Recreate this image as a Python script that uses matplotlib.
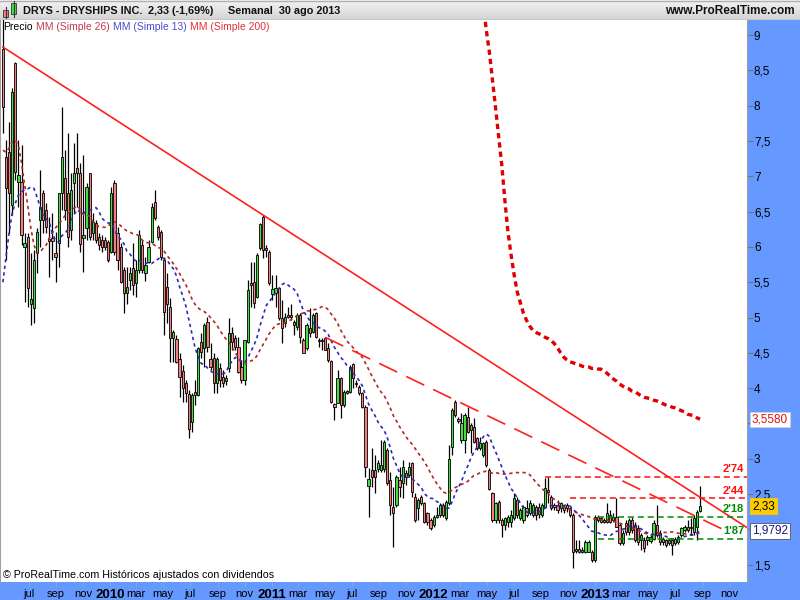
import numpy as np
import pandas as pd
import matplotlib
matplotlib.use('Agg')
import matplotlib.pyplot as plt
import matplotlib.dates as mdates
from matplotlib.colors import LinearSegmentedColormap
from matplotlib.patches import Rectangle
from matplotlib.ticker import FuncFormatter

plt.rcParams['font.family'] = ['Liberation Sans', 'DejaVu Sans']

# --- Data (weekly candles) ---------------------------------------------------------------
first_week = '2009-05-04'

opens = [
    8.80, 7.27, 7.34, 6.59, 8.60, 6.92, 6.92, 6.00, 6.14, 5.19,
    5.13, 5.91, 6.38, 6.76, 6.52, 6.11, 6.13, 5.91, 6.05, 6.76,
    6.98, 6.76, 6.24, 6.90, 7.12, 7.05, 6.13, 6.27, 7.05, 6.20,
    6.34, 6.14, 6.10, 6.10, 6.07, 5.93, 6.90, 6.20, 6.00, 5.67,
    5.35, 5.53, 5.70, 5.49, 5.67, 6.03, 5.63, 5.79, 6.07, 6.64,
    6.28, 6.21, 5.81, 5.43, 5.15, 4.71, 4.70, 4.41, 4.24, 4.07,
    3.92, 3.52, 3.94, 3.90, 4.65, 4.57, 4.94, 4.41, 4.43, 4.07,
    4.28, 4.16, 4.10, 4.28, 4.78, 4.71, 4.58, 4.30, 4.11, 4.65,
    5.46, 5.50, 5.29, 5.98, 6.42, 5.98, 5.93, 5.33, 5.35, 5.42,
    4.99, 4.92, 5.04, 5.04, 4.94, 4.86, 5.04, 4.68, 4.57, 4.85,
    4.79, 5.06, 4.68, 4.67, 4.71, 4.57, 4.38, 3.77, 3.79, 4.14,
    3.76, 3.93, 3.94, 4.34, 4.07, 4.01, 3.93, 3.73, 2.61, 2.84,
    2.84, 2.85, 2.84, 2.85, 3.12, 2.70, 2.31, 2.34, 2.70, 2.66,
    2.80, 2.77, 2.94, 2.46, 2.30, 2.46, 2.37, 2.23, 2.13, 2.06,
    2.17, 2.20, 2.34, 2.16, 2.37, 3.17, 3.80, 3.56, 3.26, 3.26,
    3.59, 3.41, 3.45, 3.29, 3.15, 3.05, 3.24, 2.84, 2.51, 2.13,
    2.39, 2.13, 2.06, 2.10, 2.10, 2.16, 2.41, 2.16, 2.13, 2.30,
    2.23, 2.20, 2.31, 2.22, 2.20, 2.31, 2.56, 2.46, 2.34, 2.34,
    2.30, 2.31, 2.34, 2.30, 2.20, 1.69, 1.72, 1.71, 1.68, 1.68,
    1.68, 1.57, 2.17, 2.16, 2.10, 2.10, 2.20, 2.13, 2.17, 2.06,
    1.81, 2.09, 1.96, 2.13, 2.06, 2.02, 1.85, 1.85, 1.85, 1.83,
    1.87, 2.06, 1.95, 1.82, 1.85, 1.81, 1.85, 1.81, 1.82, 1.92,
    1.99, 2.03, 2.02, 1.96, 2.03, 2.26,
]
highs = [
    9.30, 7.51, 7.77, 8.25, 8.62, 7.51, 7.44, 6.20, 6.20, 5.91,
    5.96, 6.27, 7.09, 6.81, 6.62, 6.42, 6.48, 6.21, 6.76, 7.98,
    7.37, 7.61, 7.05, 7.47, 7.61, 7.19, 7.30, 6.90, 7.05, 6.48,
    6.38, 6.20, 6.17, 6.14, 6.10, 6.85, 6.95, 6.28, 6.06, 5.71,
    5.71, 5.71, 6.06, 5.81, 6.24, 6.10, 5.86, 6.10, 6.62, 6.81,
    6.31, 6.24, 5.86, 5.63, 5.27, 4.82, 4.75, 4.50, 4.33, 4.11,
    3.97, 3.93, 4.11, 4.58, 4.78, 4.92, 5.01, 4.64, 4.50, 4.44,
    4.35, 4.26, 4.19, 4.99, 4.86, 4.75, 4.72, 4.40, 4.68, 5.53,
    5.79, 5.79, 5.91, 6.34, 6.45, 6.03, 5.96, 5.60, 5.60, 5.43,
    5.25, 5.06, 5.15, 5.19, 4.96, 5.06, 5.06, 4.71, 4.92, 5.13,
    5.06, 5.08, 4.71, 4.71, 4.72, 4.64, 4.40, 3.79, 4.26, 4.16,
    3.97, 3.97, 4.33, 4.35, 4.11, 4.04, 3.94, 3.76, 2.87, 3.15,
    3.05, 2.98, 3.26, 3.26, 3.15, 2.81, 2.60, 2.77, 2.88, 2.98,
    2.84, 2.95, 2.95, 2.51, 2.45, 2.49, 2.39, 2.24, 2.16, 2.20,
    2.31, 2.37, 2.37, 2.41, 3.19, 3.72, 3.83, 3.59, 3.65, 3.65,
    3.73, 3.50, 3.58, 3.31, 3.31, 3.24, 3.26, 2.87, 2.53, 2.39,
    2.41, 2.16, 2.17, 2.20, 2.27, 2.51, 2.46, 2.30, 2.34, 2.41,
    2.41, 2.37, 2.34, 2.37, 2.37, 2.73, 2.74, 2.49, 2.37, 2.41,
    2.39, 2.34, 2.37, 2.31, 2.23, 1.85, 1.85, 1.75, 1.85, 1.85,
    1.71, 2.20, 2.20, 2.17, 2.16, 2.37, 2.27, 2.23, 2.44, 2.09,
    1.99, 2.13, 2.16, 2.17, 2.10, 2.06, 1.95, 1.89, 1.92, 1.92,
    2.13, 2.34, 1.99, 1.89, 1.87, 1.87, 1.87, 1.89, 1.92, 2.03,
    2.06, 2.13, 2.16, 2.20, 2.27, 2.61,
]
lows = [
    7.61, 5.81, 6.20, 6.45, 6.95, 6.57, 6.03, 5.22, 5.15, 4.89,
    4.92, 5.63, 6.00, 6.20, 6.20, 5.57, 5.81, 5.50, 5.71, 6.52,
    6.38, 6.00, 6.10, 6.48, 6.57, 5.93, 5.64, 6.10, 6.10, 6.10,
    6.06, 5.96, 5.93, 5.96, 5.79, 5.91, 5.88, 5.67, 5.49, 5.06,
    5.19, 5.39, 5.32, 5.29, 5.63, 5.63, 5.52, 5.77, 6.06, 6.38,
    6.10, 5.81, 4.75, 4.92, 4.37, 4.37, 4.35, 3.87, 3.80, 3.80,
    3.29, 3.38, 3.76, 3.89, 4.43, 4.30, 4.51, 4.26, 3.93, 3.93,
    4.01, 4.01, 4.05, 4.23, 4.54, 4.54, 4.21, 4.07, 4.05, 4.64,
    5.15, 5.13, 5.28, 5.96, 5.84, 5.86, 5.46, 5.25, 5.15, 4.96,
    4.64, 4.86, 4.99, 4.96, 4.75, 4.82, 4.64, 4.50, 4.54, 4.72,
    4.78, 4.71, 4.58, 4.54, 4.54, 4.37, 3.79, 3.55, 3.79, 3.58,
    3.73, 3.92, 3.93, 4.00, 4.01, 3.90, 3.72, 2.74, 2.17, 2.60,
    2.51, 2.81, 2.81, 2.81, 2.63, 2.20, 1.75, 2.31, 2.46, 2.45,
    2.63, 2.74, 2.46, 2.10, 2.13, 2.34, 2.09, 2.06, 1.99, 2.03,
    2.16, 2.17, 2.17, 2.13, 2.34, 3.05, 3.59, 3.50, 3.22, 3.08,
    3.36, 3.08, 3.22, 3.12, 3.12, 3.02, 2.88, 2.56, 2.10, 2.09,
    2.09, 1.89, 1.99, 2.03, 2.03, 2.13, 2.16, 2.13, 2.09, 2.17,
    2.20, 2.17, 2.13, 2.16, 2.17, 2.30, 2.37, 2.27, 2.27, 2.23,
    2.24, 2.23, 2.24, 2.17, 1.45, 1.66, 1.66, 1.66, 1.66, 1.68,
    1.54, 1.54, 2.10, 2.09, 2.09, 2.09, 2.09, 2.10, 2.03, 1.78,
    1.78, 1.92, 1.92, 1.95, 1.82, 1.78, 1.71, 1.68, 1.78, 1.81,
    1.85, 1.89, 1.78, 1.78, 1.75, 1.78, 1.64, 1.78, 1.79, 1.89,
    1.96, 1.96, 1.92, 1.92, 1.85, 2.25,
]
closes = [
    7.98, 6.83, 6.76, 8.19, 7.06, 7.02, 6.17, 6.06, 5.42, 5.26,
    5.81, 6.21, 6.56, 6.38, 6.28, 6.08, 6.08, 5.86, 6.76, 7.27,
    6.52, 6.14, 6.81, 7.05, 7.05, 6.04, 6.17, 6.85, 6.14, 6.35,
    6.10, 6.03, 6.00, 6.00, 5.81, 6.76, 5.93, 5.81, 5.50, 5.35,
    5.43, 5.63, 5.46, 5.67, 6.17, 5.67, 5.74, 6.00, 6.56, 6.41,
    6.14, 5.86, 5.08, 5.19, 4.71, 4.79, 4.37, 4.16, 4.00, 3.93,
    3.42, 3.90, 3.90, 4.57, 4.51, 4.89, 4.58, 4.30, 4.07, 4.41,
    4.11, 4.07, 4.14, 4.78, 4.65, 4.58, 4.23, 4.11, 4.68, 5.39,
    5.49, 5.21, 5.88, 6.32, 5.96, 5.96, 5.49, 5.40, 5.42, 4.99,
    4.85, 5.01, 5.01, 5.01, 4.89, 5.04, 4.72, 4.50, 4.89, 4.78,
    5.04, 4.72, 4.67, 4.68, 4.54, 4.40, 3.80, 3.73, 4.14, 3.76,
    3.94, 3.96, 4.30, 4.14, 4.06, 3.93, 3.73, 2.88, 2.71, 2.74,
    2.74, 2.94, 2.91, 3.24, 2.66, 2.34, 2.23, 2.74, 2.60, 2.88,
    2.74, 2.88, 2.53, 2.13, 2.41, 2.37, 2.10, 2.10, 2.02, 2.17,
    2.20, 2.34, 2.20, 2.39, 2.99, 3.69, 3.62, 3.53, 3.50, 3.62,
    3.38, 3.48, 3.24, 3.15, 3.22, 3.22, 2.91, 2.57, 2.13, 2.37,
    2.13, 2.06, 2.16, 2.17, 2.20, 2.44, 2.20, 2.27, 2.31, 2.20,
    2.37, 2.34, 2.20, 2.31, 2.34, 2.58, 2.53, 2.30, 2.31, 2.27,
    2.37, 2.27, 2.30, 2.20, 1.68, 1.72, 1.68, 1.68, 1.82, 1.82,
    1.57, 2.17, 2.13, 2.10, 2.13, 2.23, 2.10, 2.17, 2.03, 1.81,
    1.95, 1.96, 2.13, 1.99, 1.85, 1.82, 1.92, 1.73, 1.89, 1.89,
    2.09, 1.92, 1.82, 1.87, 1.78, 1.85, 1.78, 1.87, 1.89, 2.02,
    2.03, 1.99, 2.03, 2.16, 2.25, 2.33,
]

# moving averages before enough history is on screen
sma13_head = [5.50, 5.86, 6.20, 6.48, 6.62, 6.73, 6.78, 6.81, 6.82, 6.85, 6.83, 6.71]
sma26_head = [7.37, 7.34, 7.40, 7.49, 7.51, 7.44, 7.19, 6.88, 6.59, 6.27,
              6.03, 5.91, 5.93, 5.98, 6.03, 6.13, 6.20, 6.27, 6.32, 6.38,
              6.44, 6.48, 6.52, 6.55, 6.58]

# MM 200 only visible from week 155 onwards
sma200_first = 155
sma200_vals = [
    9.45, 9.07, 8.76, 8.36, 7.97, 7.56, 7.16, 6.66, 6.21, 5.89, 5.60,
    5.36, 5.21, 5.06, 4.96, 4.88, 4.82, 4.79, 4.77, 4.75, 4.72,
    4.70, 4.67, 4.63, 4.57, 4.50, 4.44, 4.40, 4.37, 4.36, 4.34,
    4.33, 4.31, 4.30, 4.30, 4.28, 4.28, 4.27, 4.27, 4.24, 4.21,
    4.17, 4.13, 4.10, 4.06, 4.03, 4.00, 3.99, 3.96, 3.95, 3.92,
    3.89, 3.87, 3.86, 3.85, 3.83, 3.82, 3.80, 3.78, 3.76, 3.75,
    3.73, 3.72, 3.70, 3.68, 3.66, 3.63, 3.62, 3.61, 3.58, 3.56,
]

# drawn objects: trend lines (week index, price) and horizontal levels
trend_solid = [(0, 8.83), (84, 6.45)]
trend_dashed = [(104, 4.72), (146, 3.83)]
trend_dashed_end_week = 232
levels = [2.74, 2.44, 2.18, 1.87]
level_labels = ["2'74", "2'44", "2'18", "1'87"]
level_start_week = [175, 183, 192, 192]
level_colors = ['#ff1010', '#ff1010', '#008a00', '#008a00']

# value boxes on the price scale
last_price = 2.33
sma13_last = 1.9792
sma200_last = 3.5580

y_ticks = np.arange(1.5, 9.01, 0.5)
x_tick_dates = pd.date_range('2009-07-01', '2013-11-01', freq='2MS')
x_tick_labels = ['jul', 'sep', 'nov', '2010', 'mar', 'may', 'jul', 'sep', 'nov',
                 '2011', 'mar', 'may', 'jul', 'sep', 'nov',
                 '2012', 'mar', 'may', 'jul', 'sep', 'nov',
                 '2013', 'mar', 'may', 'jul', 'sep', 'nov']

# --- Figure ----------------------------------------------------------------------------
BLUE = '#6699ff'
W, H = 800, 600
fig = plt.figure(figsize=(8, 6), dpi=100, facecolor=BLUE)
ax = fig.add_axes([0, 18 / H, 747 / W, 562 / H])
ax.set_facecolor('white')

dates = pd.date_range(first_week, periods=len(closes), freq='7D')
x = mdates.date2num(dates)
o = np.array(opens); h = np.array(highs); l = np.array(lows); c = np.array(closes)

def week_x(i):
    return mdates.date2num(dates[0] + pd.Timedelta(days=7 * i))

# candles
up = c >= o
body_col = np.where(up, '#44dd44', '#f27f7f')
ax.vlines(x, l, h, color='black', lw=0.9, zorder=2)
ax.bar(x, np.maximum(np.abs(c - o), 0.004), width=5, bottom=np.minimum(o, c),
       color=body_col, edgecolor='black', linewidth=0.6, zorder=3)

# moving averages
close_s = pd.Series(c)
sma13 = close_s.rolling(13).mean().to_numpy()
sma13[:len(sma13_head)] = sma13_head
sma26 = close_s.rolling(26).mean().to_numpy()
sma26[:len(sma26_head)] = sma26_head
ax.plot(x, sma26, color='#b02828', lw=1.2, ls=(0, (2, 2)), zorder=4)
ax.plot(x, sma13, color='#2a2ab8', lw=1.2, ls=(0, (2, 2)), zorder=4)
ax.plot(x[sma200_first:sma200_first + len(sma200_vals)], sma200_vals,
        color='#e00000', lw=2.4, ls=(0, (1.6, 1.2)), zorder=4)

# axis limits
x_left = mdates.date2num(pd.Timestamp('2009-04-27 10:00'))
x_right = mdates.date2num(pd.Timestamp('2013-12-10'))
ax.set_xlim(x_left, x_right)
ax.set_ylim(1.255, 9.213)

# trend lines
(w0, p0), (w1, p1) = trend_solid
slope = (p1 - p0) / (week_x(w1) - week_x(w0))
ax.plot([week_x(w0), x_right], [p0, p0 + slope * (x_right - week_x(w0))],
        color='#ff2020', lw=1.2, zorder=5)
(w0, p0), (w1, p1) = trend_dashed
slope = (p1 - p0) / (week_x(w1) - week_x(w0))
xe = week_x(trend_dashed_end_week)
ax.plot([week_x(w0), xe], [p0, p0 + slope * (xe - week_x(w0))],
        color='#ff2020', lw=1.2, ls=(0, (12, 6)), zorder=5)

# horizontal levels
for lev, lab, wk, col in zip(levels, level_labels, level_start_week, level_colors):
    ax.plot([week_x(wk), x_right], [lev, lev], color=col, lw=1.1, ls=(0, (4, 2.5)), zorder=5)
    ax.annotate(lab, xy=(1, lev), xycoords=('axes fraction', 'data'), xytext=(-2, 2),
                textcoords='offset points', ha='right', va='bottom', fontsize=8,
                fontweight='bold', color=col, zorder=6)

# price scale (right) and time scale (bottom)
ax.yaxis.tick_right()
ax.set_yticks(y_ticks)
ax.yaxis.set_major_formatter(FuncFormatter(lambda v, pos: f'{v:g}'.replace('.', ',')))
ax.tick_params(axis='y', direction='out', length=4, color='#707070', labelsize=8.5,
               pad=1, labelcolor='black')
# the value boxes cover the tick labels right under them
boxed_values = [sma200_last, last_price, sma13_last]
for tick_val, lbl in zip(y_ticks, ax.get_yticklabels()):
    if any(abs(tick_val - b) < 0.11 for b in boxed_values):
        lbl.set_visible(False)

ax.set_xticks(mdates.date2num(x_tick_dates))
ax.set_xticklabels(x_tick_labels)
ax.tick_params(axis='x', direction='out', length=3, color='#8aa8e8', labelsize=8,
               pad=2, labelcolor='black')
for lbl, d in zip(ax.get_xticklabels(), x_tick_dates):
    if d.month == 1:
        lbl.set_fontweight('bold')
        lbl.set_fontsize(9.5)

for side in ['top', 'bottom']:
    ax.spines[side].set_visible(False)
ax.spines['left'].set_color('#a0a0a0')
ax.spines['right'].set_color('#a0a0a0')

# value boxes on the price scale
box_x = 752 / 747
ax.text(box_x, sma200_last, f'{sma200_last:.4f}'.replace('.', ','), transform=ax.get_yaxis_transform(),
        va='center', ha='left', fontsize=8.5, color='#e01010', clip_on=False, zorder=10,
        bbox=dict(boxstyle='square,pad=0.15', fc='white', ec='#d0d0d0', lw=0.6))
ax.text(box_x, last_price, f'{last_price:.2f}'.replace('.', ','), transform=ax.get_yaxis_transform(),
        va='center', ha='left', fontsize=8.5, color='black', clip_on=False, zorder=10,
        bbox=dict(boxstyle='square,pad=0.15', fc='#ffcc00', ec='#ffcc00', lw=0.6))
ax.text(box_x, sma13_last, f'{sma13_last:.4f}'.replace('.', ','), transform=ax.get_yaxis_transform(),
        va='center', ha='left', fontsize=8.5, color='#1a1a80', clip_on=False, zorder=10,
        bbox=dict(boxstyle='square,pad=0.15', fc='white', ec='#505070', lw=0.6))

# legend line in the top-left corner
legend_parts = [('Precio', 'black'), ('MM (Simple 26)', '#c23a4a'),
                ('MM (Simple 13)', '#4a4ad2'), ('MM (Simple 200)', '#e3303a')]
t = ax.text(3 / 747, 1 - 7 / 562, legend_parts[0][0], transform=ax.transAxes,
            fontsize=7.5, color=legend_parts[0][1], va='center', ha='left', zorder=10)
for txt, col in legend_parts[1:]:
    t = ax.annotate(txt, xy=(1, 0), xycoords=t, xytext=(2.5, 0), textcoords='offset points',
                    fontsize=7.5, color=col, va='bottom', ha='left', zorder=10)

ax.text(3 / 747, 7 / 562, '© ProRealTime.com Históricos ajustados con dividendos',
        transform=ax.transAxes, fontsize=7.7, va='center', ha='left', zorder=10)

# header bar
hdr = fig.add_axes([0, 1 - 20 / H, 1, 20 / H])
grad = LinearSegmentedColormap.from_list('hdr', ['#d3d3d3', '#f3f3f3'])
hdr.imshow(np.linspace(0, 1, 20).reshape(-1, 1), cmap=grad, aspect='auto',
           extent=(0, W, 20, 0), origin='lower')
hdr.set_xlim(0, W)
hdr.set_ylim(20, 0)
hdr.axis('off')
hdr.plot([0, W], [19.5, 19.5], color='#9a9a9a', lw=1)
hdr.plot([0, W], [0.5, 0.5], color='#b0b0b0', lw=1)
# little candle icon
hdr.plot([5.5, 5.5], [7, 18], color='#333333', lw=0.8)
hdr.add_patch(Rectangle((3, 10), 5, 7, fc='#f27f7f', ec='#333333', lw=0.6))
hdr.plot([13.5, 13.5], [1, 17], color='#333333', lw=0.8)
hdr.add_patch(Rectangle((11, 3), 5, 11, fc='#44dd44', ec='#333333', lw=0.6))

for px, s in [(23, 'DRYS - DRYSHIPS INC.'), (148, '2,33 (-1,69%)'), (228, 'Semanal  30 ago 2013')]:
    hdr.text(px, 10.5, s, fontsize=7.8, fontweight='bold', va='center', ha='left', color='#111111')
hdr.text(795, 10.5, 'www.ProRealTime.com', fontsize=8.5, fontweight='bold', va='center',
         ha='right', color='#111111')

fig.savefig('out.png', dpi=100, facecolor=BLUE)
